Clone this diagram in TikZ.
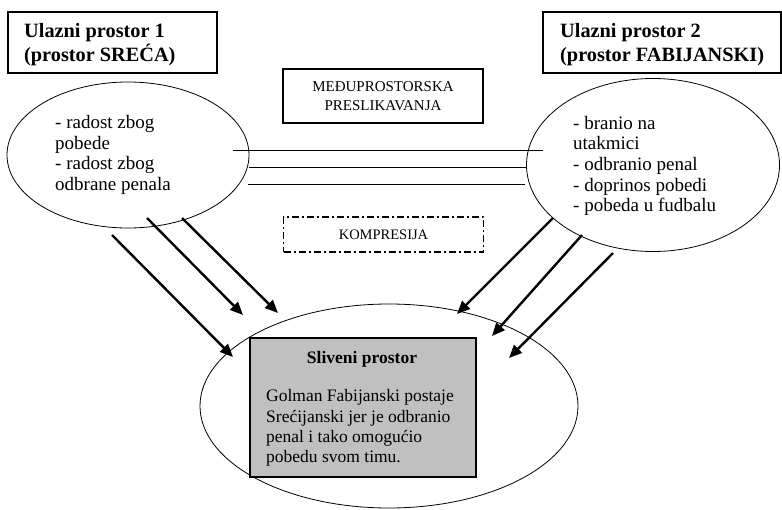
\documentclass[tikz,border=0pt]{standalone}
\usepackage{fontspec}
\setmainfont{Liberation Serif}
\usetikzlibrary{shapes.geometric,arrows.meta}
\begin{document}
\begin{tikzpicture}[x=1pt,y=-1pt,
  titlebox/.style={draw,line width=1.2pt,minimum width=#1,minimum height=61pt,inner sep=0pt},
  titletext/.style={font=\fontsize{20.3}{24}\selectfont\bfseries,align=left,anchor=west,inner sep=0pt},
  space/.style={draw,ellipse,line width=0.8pt,inner sep=0pt},
  bodytext/.style={font=\fontsize{19}{20.7}\selectfont,align=left,anchor=west,inner sep=0pt},
  blendbody/.style={font=\fontsize{17.5}{20.3}\selectfont,align=left,anchor=west,inner sep=0pt},
  smallbox/.style={minimum width=200pt,inner sep=0pt,font=\fontsize{15}{19.5}\selectfont,align=center},
  maparrow/.style={line width=2.4pt,-{Triangle[length=13pt,width=11pt]}},
  mapline/.style={line width=1pt}]
\useasboundingbox (0,0) rectangle (782,509);
% input space boxes
\node[titlebox=209pt] (t1) at (112.5,42.5) {};
\node[titletext] (t1text) at (24,45) {Ulazni prostor 1\\(prostor SREĆA)};
\node[titlebox=238pt] (t2) at (662,42.5) {};
\node[titletext] (t2text) at (560,45) {Ulazni prostor 2\\(prostor FABIJANSKI)};
% ellipses
\node[space,minimum width=242pt,minimum height=146pt] (e1) at (128,155) {};
\node[bodytext] (e1text) at (55,155) {- radost zbog\\pobede\\- radost zbog\\odbrane penala};
\node[space,minimum width=253pt,minimum height=173pt] (e2) at (653,165) {};
\node[bodytext] (e2text) at (573,166) {- branio na\\utakmici\\- odbranio penal\\- doprinos pobedi\\- pobeda u fudbalu};
\node[space,minimum width=378pt,minimum height=204pt] (e3) at (389,406) {};
% middle boxes
\node[smallbox,draw,line width=1.2pt,minimum height=54pt] (map) at (383,96) {MEĐUPROSTORSKA\\PRESLIKAVANJA};
\node[smallbox,draw,line width=1.5pt,minimum height=35pt,font=\fontsize{14.5}{18}\selectfont,dash pattern=on 7pt off 3pt on 2pt off 3pt] (komp) at (383.5,234.5) {KOMPRESIJA};
% blended space
\node[draw,fill={rgb,255:red,192;green,192;blue,192},line width=1.4pt,minimum width=226pt,minimum height=139pt,inner sep=0pt] (blend) at (363,407.5) {};
\node[font=\fontsize{17.5}{20}\selectfont\bfseries,inner sep=0pt] (blendtitle) at (362,359) {Sliveni prostor};
\node[blendbody] (blendtext) at (266,428) {Golman Fabijanski postaje\\Srećijanski jer je odbranio\\penal i tako omogućio\\pobedu svom timu.};
% cross-space mapping lines
\coordinate (l1a) at (233,150); \coordinate (l1b) at (543,150);
\coordinate (l2a) at (249,167); \coordinate (l2b) at (527,167);
\coordinate (l3a) at (248,184); \coordinate (l3b) at (525,184);
\draw[mapline] (l1a) -- (l1b);
\draw[mapline] (l2a) -- (l2b);
\draw[mapline] (l3a) -- (l3b);
% projection arrows
\coordinate (a1s) at (112,235); \coordinate (a1e) at (233,357);
\coordinate (a2s) at (147,218); \coordinate (a2e) at (243,315);
\coordinate (a3s) at (182,218); \coordinate (a3e) at (278,313);
\coordinate (a4s) at (553,218); \coordinate (a4e) at (457,314);
\coordinate (a5s) at (582,235); \coordinate (a5e) at (492,336);
\coordinate (a6s) at (613,253); \coordinate (a6e) at (509,358);
\draw[maparrow] (a1s) -- (a1e);
\draw[maparrow] (a2s) -- (a2e);
\draw[maparrow] (a3s) -- (a3e);
\draw[maparrow] (a4s) -- (a4e);
\draw[maparrow] (a5s) -- (a5e);
\draw[maparrow] (a6s) -- (a6e);
\end{tikzpicture}
\end{document}
